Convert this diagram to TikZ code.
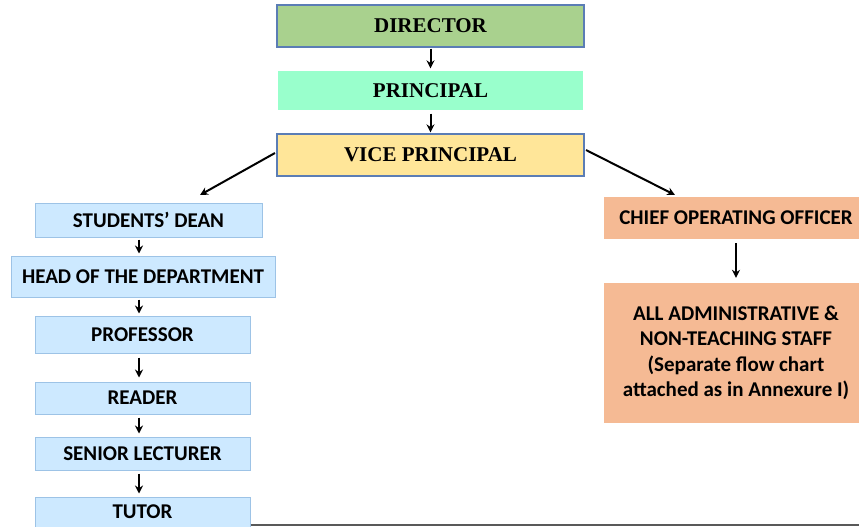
\documentclass[tikz,border=0pt]{standalone}
\usepackage{fontspec}
\setmainfont{Liberation Serif}
\newfontfamily\calfont{Carlito}
\usetikzlibrary{arrows.meta,calc}
\definecolor{cgreen}{HTML}{A9D18E}
\definecolor{caqua}{HTML}{99FFCC}
\definecolor{cyellow}{HTML}{FFE699}
\definecolor{cblue}{HTML}{CDE9FF}
\definecolor{cblueb}{HTML}{9DC3E6}
\definecolor{csalmon}{HTML}{F5BA94}
\definecolor{cborder}{HTML}{5B7DB5}
\tikzset{
  topbox/.style={draw=cborder, line width=1.3pt, inner sep=0pt, font=\fontsize{21}{24}\selectfont\bfseries},
  leftbox/.style={draw=cblueb, line width=1pt, fill=cblue, inner sep=0pt, font=\calfont\fontsize{21}{24}\selectfont\bfseries},
  rightbox/.style={fill=csalmon, inner sep=0pt, align=center, font=\calfont\fontsize{21}{25.5}\selectfont\bfseries},
  arr/.style={-{Stealth[length=8pt,width=8pt]}, line width=2pt, black},
}
\begin{document}
\begin{tikzpicture}[x=1pt,y=-1pt]
\useasboundingbox (0,0) rectangle (859,527);
% top
\node[topbox, fill=cgreen, minimum width=307pt, minimum height=42pt] (dir) at (430.5,26) {DIRECTOR};
\node[topbox, draw=none, fill=caqua, minimum width=305pt, minimum height=39pt] (pri) at (430.5,90.5) {PRINCIPAL};
\node[topbox, fill=cyellow, minimum width=307pt, minimum height=42pt] (vp) at (430.5,155) {VICE PRINCIPAL};
\draw[arr, shorten <=1pt, shorten >=2pt] (dir.south) -- (pri.north);
\draw[arr, shorten <=3pt, shorten >=1pt] (pri.south) -- (vp.north);
% left column
\node[leftbox, minimum width=227pt, minimum height=34pt] (sd) at (148.5,220) {STUDENTS’ DEAN};
\node[leftbox, minimum width=264pt, minimum height=41pt] (hod) at (143,276.5) {HEAD OF THE DEPARTMENT};
\node[leftbox, minimum width=215pt, minimum height=37pt] (prof) at (142.5,334.5) {PROFESSOR};
\node[leftbox, minimum width=215pt, minimum height=32pt] (rd) at (142.5,398) {READER};
\node[leftbox, minimum width=215pt, minimum height=33pt] (sl) at (142.5,453.5) {SENIOR LECTURER};
\node[leftbox, minimum width=215pt, minimum height=30pt] (tu) at (142.5,512) {TUTOR};
\coordinate (ax) at (139,0);
\draw[arr, shorten <=2pt, shorten >=2pt] (sd.south -| ax) -- (hod.north -| ax);
\draw[arr, shorten <=2pt, shorten >=2pt] (hod.south -| ax) -- (prof.north -| ax);
\draw[arr, shorten <=4pt, shorten >=4pt] (prof.south -| ax) -- (rd.north -| ax);
\draw[arr, shorten <=3pt, shorten >=3pt] (rd.south -| ax) -- (sl.north -| ax);
\draw[arr, shorten <=3pt, shorten >=3pt] (sl.south -| ax) -- (tu.north -| ax);
% right column
\node[rightbox, minimum width=264pt, minimum height=42pt] (coo) at (736,218) {CHIEF OPERATING OFFICER};
\node[rightbox, minimum width=264pt, minimum height=140pt] (all) at (736,353) {ALL ADMINISTRATIVE \&\\NON-TEACHING STAFF\\(Separate flow chart\\attached as in Annexure I)};
\coordinate (ax2) at (736,0);
\draw[arr, shorten <=4pt, shorten >=5pt] (coo.south -| ax2) -- (all.north -| ax2);
% diagonal arrows
\coordinate (lstart) at (275,153);
\coordinate (ltip) at (200,195);
\coordinate (rstart) at (586,150);
\coordinate (rtip) at (675,195);
\draw[arr] (lstart) -- (ltip);
\draw[arr] (rstart) -- (rtip);
% bottom rule
\coordinate (b1) at (251,525);
\coordinate (b2) at (859,525);
\draw[line width=1.5pt, black!65] (b1) -- (b2);
\end{tikzpicture}
\end{document}
